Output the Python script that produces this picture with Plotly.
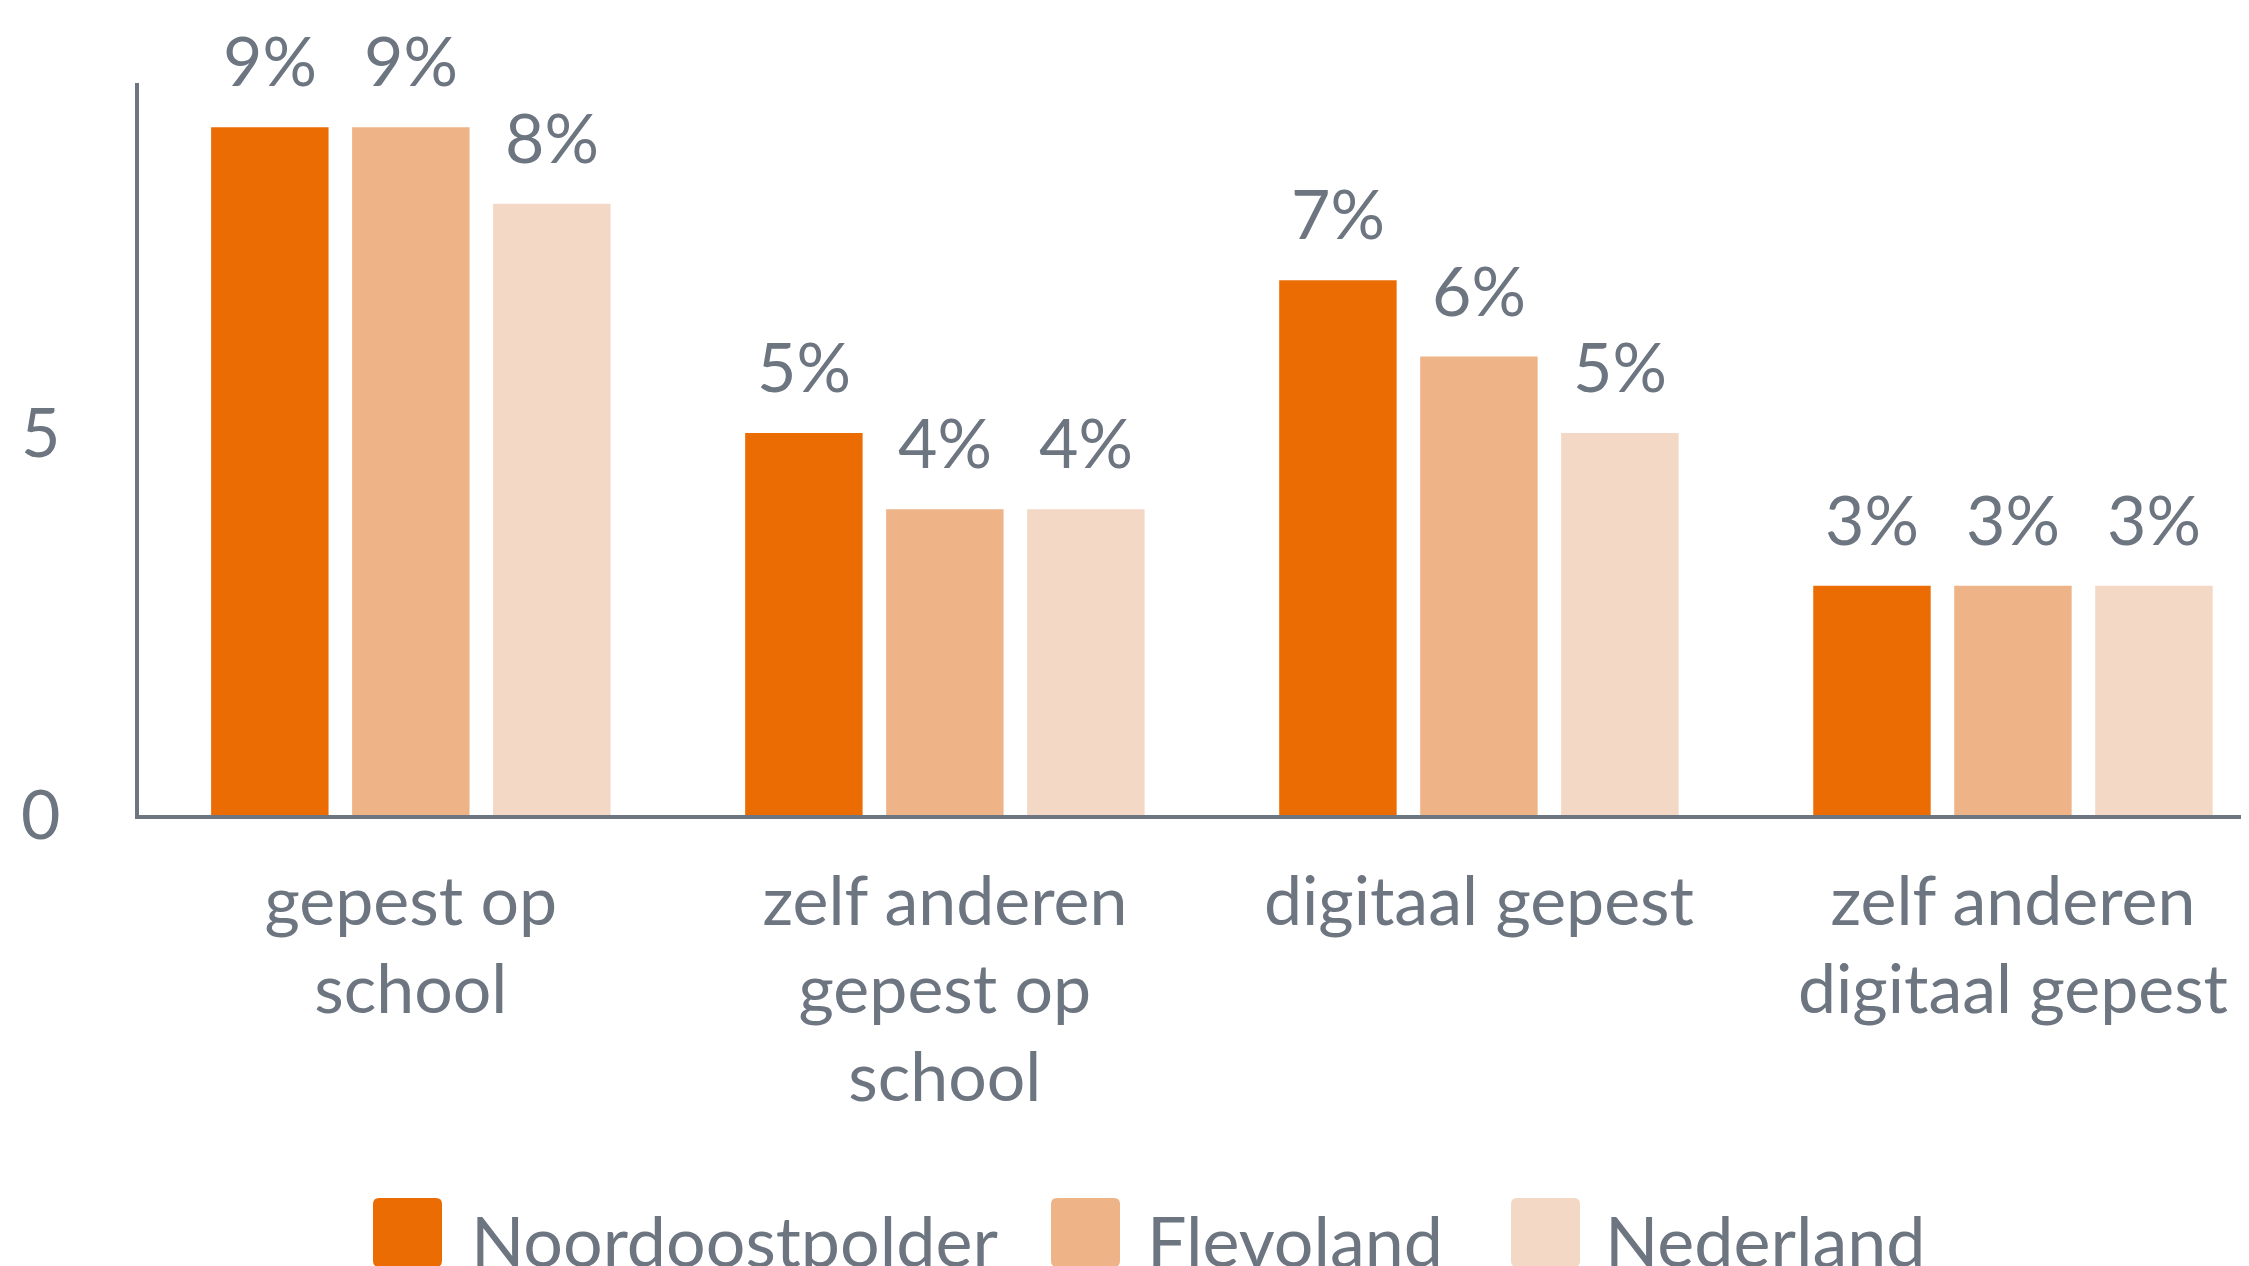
import plotly.graph_objects as go

categories = ["gepest op school", "zelf anderen gepest op school", "digitaal gepest", "zelf anderen digitaal gepest"]
tick_labels = ["gepest op<br>school", "zelf anderen<br>gepest op<br>school", "digitaal gepest", "zelf anderen<br>digitaal gepest"]
series_names = ["Noordoostpolder", "Flevoland", "Nederland"]
noordoostpolder = [9, 5, 7, 3]
flevoland = [9, 4, 6, 3]
nederland = [8, 4, 5, 3]
series_values = [noordoostpolder, flevoland, nederland]
colors = ["#EC6C04", "#EEB487", "#F2D8C5"]

OFF = 8  # browser default body margin
W, H = 2249 - OFF, 1266 - OFF
L, R, T, B = 139 - OFF, 0, 83 - OFF, 451
PW = W - L - R
PH = H - T - B
TXT = "#6C7580"
FONT = "Lato"
FS = 68
LFS = 70

fig = go.Figure()
for name, vals, col in zip(series_names, series_values, colors):
    fig.add_trace(go.Bar(x=categories, y=vals, name=name, marker_color=col,
                         marker_line_width=0, showlegend=False))

# data labels above bars
slot_px = 141
for i, vals in enumerate(series_values):
    for cat, v in zip(categories, vals):
        fig.add_annotation(x=cat, y=v, xref="x", yref="y", text=f"{v}%",
                           showarrow=False, xshift=(i - 1) * slot_px, yshift=25,
                           yanchor="bottom", xanchor="center",
                           font=dict(family=FONT, size=FS, color=TXT))

# legend (large rounded squares), positions in page pixels
def px2x(px):
    return (px - OFF - L) / PW

def py2y(py):
    return (T + PH - (py - OFF)) / PH

def rounded_rect(x0, y0, x1, y1, r):
    pts = [
        f"M{px2x(x0 + r)},{py2y(y0)}",
        f"L{px2x(x1 - r)},{py2y(y0)}",
        f"Q{px2x(x1)},{py2y(y0)} {px2x(x1)},{py2y(y0 + r)}",
        f"L{px2x(x1)},{py2y(y1 - r)}",
        f"Q{px2x(x1)},{py2y(y1)} {px2x(x1 - r)},{py2y(y1)}",
        f"L{px2x(x0 + r)},{py2y(y1)}",
        f"Q{px2x(x0)},{py2y(y1)} {px2x(x0)},{py2y(y1 - r)}",
        f"L{px2x(x0)},{py2y(y0 + r)}",
        f"Q{px2x(x0)},{py2y(y0)} {px2x(x0 + r)},{py2y(y0)}",
        "Z",
    ]
    return " ".join(pts)

leg_sq_x = [373, 1051, 1511]
leg_txt_x = [469, 1145, 1603]
sq = 69
sq_top = 1198
txt_cy = 1240
for name, col, x0, tx in zip(series_names, colors, leg_sq_x, leg_txt_x):
    fig.add_shape(type="path", xref="paper", yref="paper",
                  path=rounded_rect(x0, sq_top, x0 + sq, sq_top + sq, 6),
                  fillcolor=col, line_width=0)
    fig.add_annotation(xref="paper", yref="paper", x=px2x(tx), y=py2y(txt_cy),
                       text=name, showarrow=False, xanchor="left", yanchor="middle",
                       font=dict(family=FONT, size=LFS, color=TXT))

fig.update_layout(
    width=W, height=H,
    margin=dict(l=L, r=R, t=T, b=B, pad=0),
    paper_bgcolor="white", plot_bgcolor="white",
    barmode="group", bargap=0.208, bargroupgap=0.167,
    font=dict(family=FONT, size=FS, color=TXT),
    showlegend=False,
)
fig.update_xaxes(range=[-0.509, 3.442], tickmode="array", tickvals=categories, ticktext=tick_labels,
                 showline=True, linecolor=TXT, linewidth=4, showgrid=False, zeroline=False,
                 ticks="", ticklabelstandoff=24,
                 tickfont=dict(family=FONT, size=FS, color=TXT))
fig.update_yaxes(range=[0, 9.58], tickvals=[0, 5], ticktext=["0", "5"],
                 showline=True, linecolor=TXT, linewidth=4, showgrid=False, zeroline=False,
                 ticks="", ticklabelstandoff=61,
                 tickfont=dict(family=FONT, size=FS, color=TXT))

fig.write_html("out.html")
